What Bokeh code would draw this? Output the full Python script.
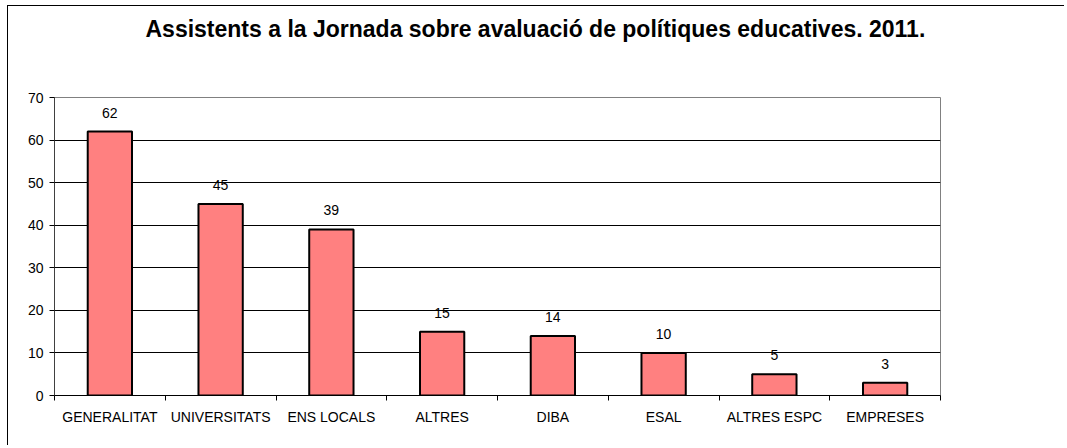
from bokeh.plotting import figure
from bokeh.models import ColumnDataSource, LabelSet, FixedTicker, Range1d, Title
from bokeh.core.properties import value
from bokeh.embed import file_html
from bokeh.resources import INLINE

categories = ["GENERALITAT", "UNIVERSITATS", "ENS LOCALS", "ALTRES", "DIBA",
              "ESAL", "ALTRES ESPC", "EMPRESES"]
values = [62, 45, 39, 15, 14, 10, 5, 3]
y_ticks = [0, 10, 20, 30, 40, 50, 60, 70]
title_text = "Assistents a la Jornada sobre avaluació de polítiques educatives. 2011."

FONT = "Liberation Sans"
n = len(categories)
centers = [i + 0.5 for i in range(n)]
bounds = list(range(n + 1))

src = ColumnDataSource(dict(x=centers, top=values, label=[str(v) for v in values]))

p = figure(frame_width=886, frame_height=298,
           x_range=Range1d(0, n), y_range=Range1d(y_ticks[0], y_ticks[-1]),
           output_backend="svg", toolbar_location=None,
           min_border_left=46, min_border_top=91, min_border_right=124,
           min_border_bottom=50, title=None)
p.styles = {"margin-left": "7px", "margin-top": "5px",
            "border-left": "1px solid black", "border-top": "1px solid black"}

# spacer between the frame and the title (closest to the frame)
spacer = Title(text=" ", text_font_size="1px", standoff=53)
p.add_layout(spacer, "above")
main_title = Title(text=title_text, align="left", offset=91, standoff=0,
                   text_font=FONT, text_font_size="23px",
                   text_font_style="bold", text_color="black")
p.add_layout(main_title, "above")

p.vbar(x="x", top="top", width=0.4, bottom=0, source=src,
       fill_color="#FF8080", line_color="black", line_width=2)

labels = LabelSet(x="x", y="top", text="label", source=src, y_offset=14,
                  text_align="center", text_baseline="alphabetic",
                  text_font_size=value("14px"), text_font=value(FONT),
                  text_color=value("black"))
p.add_layout(labels)

# x axis
xa = p.xaxis[0]
xa.ticker = FixedTicker(ticks=centers, minor_ticks=bounds)
xa.major_label_overrides = {c: cat for c, cat in zip(centers, categories)}
xa.major_tick_line_color = None
xa.major_tick_out = 5
xa.major_tick_in = 0
xa.minor_tick_out = 5
xa.minor_tick_in = 0
xa.minor_tick_line_color = "black"
xa.axis_line_color = "black"
xa.major_label_standoff = 8
xa.major_label_text_font = FONT
xa.major_label_text_font_size = "14px"
xa.major_label_text_color = "black"
p.xgrid.visible = False

# y axis
ya = p.yaxis[0]
ya.ticker = FixedTicker(ticks=y_ticks)
ya.minor_tick_line_color = None
ya.major_tick_in = 0
ya.major_tick_out = 5
ya.major_tick_line_color = "black"
ya.axis_line_color = "#404040"
ya.major_label_standoff = 6
ya.major_label_text_font = FONT
ya.major_label_text_font_size = "14px"
ya.major_label_text_color = "black"
p.ygrid.ticker = FixedTicker(ticks=y_ticks[1:-1])
p.ygrid.grid_line_color = "black"
p.ygrid.grid_line_width = 1

p.outline_line_color = "#808080"
p.outline_line_width = 1
p.background_fill_color = "white"
p.border_fill_color = "white"

open("out.html", "w").write(file_html(p, INLINE))
